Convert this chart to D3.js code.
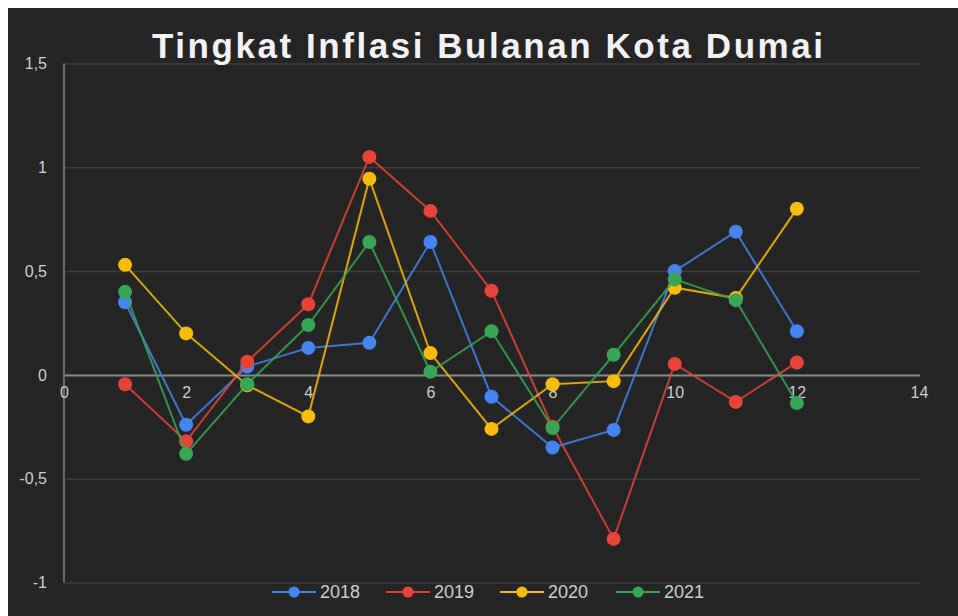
<!DOCTYPE html>
<html>
<head>
<meta charset="utf-8">
<script src="https://cdn.jsdelivr.net/npm/d3@7"></script>
<style>
  html, body { margin: 0; padding: 0; background: #ffffff; }
  svg { display: block; }
  text { font-family: "Liberation Sans", Arial, sans-serif; }
</style>
</head>
<body>
<svg id="chart" width="958" height="616"></svg>
<script>
// ---- data ----
const months = [1, 2, 3, 4, 5, 6, 7, 8, 9, 10, 11, 12];
const seriesNames = ["2018", "2019", "2020", "2021"];
const values2018 = [0.35, -0.24, 0.04, 0.13, 0.155, 0.64, -0.105, -0.35, -0.265, 0.50, 0.69, 0.21];
const values2019 = [-0.045, -0.32, 0.063, 0.34, 1.05, 0.79, 0.405, -0.25, -0.79, 0.053, -0.13, 0.06];
const values2020 = [0.53, 0.20, -0.05, -0.20, 0.945, 0.105, -0.26, -0.045, -0.03, 0.42, 0.37, 0.80];
const values2021 = [0.40, -0.38, -0.045, 0.24, 0.64, 0.015, 0.21, -0.256, 0.097, 0.46, 0.36, -0.135];
const xTicks = [0, 2, 4, 6, 8, 10, 12, 14];
const yTicks = [-1, -0.5, 0, 0.5, 1, 1.5];
const titleText = "Tingkat Inflasi Bulanan Kota Dumai";
const colors = ["#4285F4", "#EA4335", "#FBBC04", "#34A853"];

const allValues = [values2018, values2019, values2020, values2021];

const svg = d3.select("#chart");
const W = 958, H = 616;

// background (white strip at top/left as in reference)
svg.append("rect").attr("x", 8).attr("y", 8).attr("width", W - 8).attr("height", H - 8).attr("fill", "#252525");

const x = d3.scaleLinear().domain([0, 14]).range([64, 919]);
const y = d3.scaleLinear().domain([-1, 1.5]).range([582.5, 63.5]);

// gridlines
const grid = svg.append("g").attr("transform", "translate(64,0)")
  .call(d3.axisLeft(y).tickValues(yTicks).tickSize(-(920 - 64)).tickFormat(""));
grid.select(".domain").remove();
grid.selectAll(".tick line")
  .attr("stroke", d => d === 0 ? "#8a8a8a" : "#3d3d3d")
  .attr("stroke-width", d => d === 0 ? 2 : 1.5);

// y axis line
svg.append("line").attr("x1", 64).attr("x2", 64).attr("y1", y(1.5)).attr("y2", y(-1))
  .attr("stroke", "#6a6a6a").attr("stroke-width", 2);

// y axis labels
const yAxis = svg.append("g").attr("transform", "translate(64,0)")
  .call(d3.axisLeft(y).tickValues(yTicks).tickSize(0).tickPadding(17)
    .tickFormat(d => String(d).replace(".", ",")));
yAxis.select(".domain").remove();
yAxis.selectAll("text").attr("fill", "#cfcfcf").attr("font-size", 16);

// x axis labels placed at zero line
const xAxis = svg.append("g").attr("transform", `translate(0,${y(0)})`)
  .call(d3.axisBottom(x).tickValues(xTicks).tickSize(0).tickPadding(0));
xAxis.select(".domain").remove();
xAxis.selectAll("text").attr("fill", "#cfcfcf").attr("font-size", 16).attr("dy", "1.45em");

// lines & points
const line = d3.line().x((d, i) => x(months[i])).y(d => y(d));
allValues.forEach((vals, si) => {
  const g = svg.append("g");
  g.append("path").datum(vals).attr("d", line)
    .attr("fill", "none").attr("stroke", colors[si]).attr("stroke-width", 2).attr("stroke-opacity", 0.85);
  g.selectAll("circle").data(vals).join("circle")
    .attr("cx", (d, i) => x(months[i])).attr("cy", d => y(d)).attr("r", 7)
    .attr("fill", colors[si]);
});

// title
svg.append("text").attr("x", 487.5).attr("y", 58).attr("text-anchor", "middle")
  .attr("font-size", 35).attr("font-weight", "bold").attr("fill", "#f2f2f2")
  .attr("textLength", 671).attr("lengthAdjust", "spacing")
  .text(titleText);

// legend
const legend = svg.append("g");
const legendStart = [272, 386, 500, 616];
seriesNames.forEach((name, i) => {
  const lx = legendStart[i];
  const g = legend.append("g").attr("transform", `translate(${lx},592)`);
  g.append("line").attr("x1", 0).attr("x2", 44).attr("y1", 0).attr("y2", 0)
    .attr("stroke", colors[i]).attr("stroke-width", 2);
  g.append("circle").attr("cx", 22).attr("cy", 0).attr("r", 5.5).attr("fill", colors[i]);
  g.append("text").attr("x", 48).attr("y", 0).attr("dy", "0.36em")
    .attr("font-size", 18).attr("fill", "#cfcfcf").text(name);
});
</script>
</body>
</html>
